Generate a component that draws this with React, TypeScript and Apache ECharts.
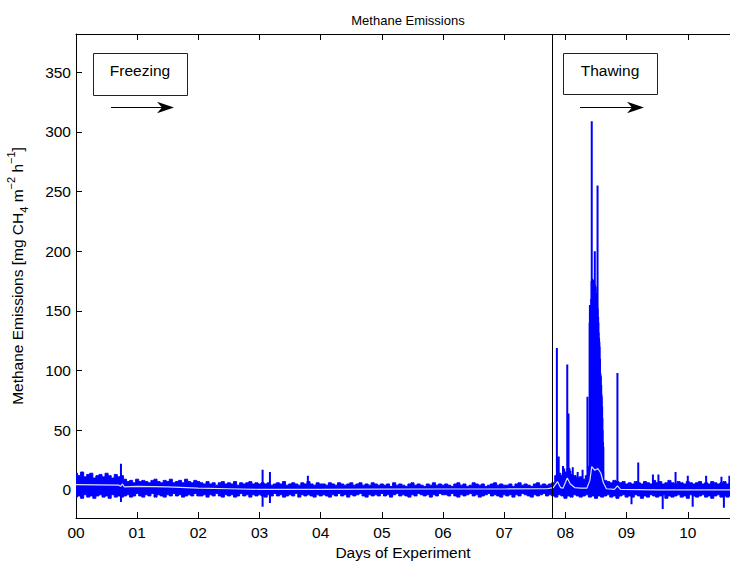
import React, { useEffect, useRef } from 'react';
import * as echarts from 'echarts';

// ---- data ----
const xTickLabels = ['00', '01', '02', '03', '04', '05', '06', '07', '08', '09', '10'];
const yTickValues = [0, 50, 100, 150, 200, 250, 300, 350];

// noise band sampled every 0.05 day from day 0 to 10.70
const bandStart = 0;
const bandStep = 0.05;
const bandUpper = [
  // 0.00 - 0.75
  14, 12, 15, 11, 13, 14, 10, 12, 13, 11, 14, 12, 10, 13, 11, 12,
  // 0.80 - 2.00
  9, 7, 8, 6, 9, 7, 8, 7, 6, 8, 9, 7, 6, 8, 7, 9, 6, 7, 8, 6, 9, 7, 6, 8, 7,
  // 2.05 - 3.00
  6, 5, 7, 5, 6, 4, 6, 7, 5, 6, 5, 7, 4, 6, 5, 6, 7, 5, 6, 5,
  // 3.05 - 4.00
  6, 5, 6, 4, 5, 6, 5, 7, 4, 5, 6, 5, 4, 6, 5, 7, 5, 4, 6, 5,
  // 4.05 - 5.00
  5, 4, 6, 5, 4, 6, 5, 4, 5, 6, 4, 5, 6, 4, 5, 4, 6, 5, 4, 5,
  // 5.05 - 6.00
  4, 5, 3, 6, 4, 5, 4, 3, 5, 6, 4, 5, 4, 3, 5, 4, 6, 4, 5, 4,
  // 6.05 - 7.00
  5, 4, 3, 5, 6, 4, 5, 3, 4, 6, 5, 4, 5, 3, 4, 5, 6, 4, 5, 4,
  // 7.05 - 7.75
  4, 5, 3, 5, 6, 4, 5, 4, 3, 5, 6, 4, 5, 4, 5,
  // 7.80 - 8.35
  6, 12, 14, 12, 15, 18, 13, 12, 10, 11, 9, 12,
  // 8.40 - 8.60
  20, 22, 22, 20, 15,
  // 8.65 - 10.70
  8, 7, 6, 8, 7, 6, 7, 5, 6, 5, 7, 6, 5, 7, 6, 5, 8, 6, 7, 5, 6, 8, 6, 5, 7, 6, 5, 7, 6, 5,
  6, 7, 5, 6, 5, 7, 6, 5, 6, 7, 5, 6,
];
const bandLower = [
  // 0.00 - 0.75
  -6, -5, -7, -4, -6, -5, -7, -5, -4, -6, -5, -7, -4, -6, -5, -6,
  // 0.80 - 2.00
  -5, -4, -6, -5, -3, -5, -6, -4, -5, -3, -6, -4, -5, -6, -4, -5, -3, -5, -4, -6, -5, -4, -5, -3, -5,
  // 2.05 - 3.00
  -5, -4, -6, -4, -5, -3, -5, -6, -4, -5, -4, -6, -5, -3, -5, -4, -6, -4, -5, -4,
  // 3.05 - 4.00
  -5, -6, -4, -5, -3, -5, -4, -6, -5, -4, -5, -3, -6, -4, -5, -4, -5, -6, -4, -5,
  // 4.05 - 5.00
  -4, -5, -6, -4, -5, -3, -5, -4, -6, -4, -5, -4, -3, -5, -6, -4, -5, -4, -5, -3,
  // 5.05 - 6.00
  -5, -4, -6, -4, -3, -5, -4, -5, -6, -4, -5, -3, -4, -5, -4, -6, -4, -5, -3, -4,
  // 6.05 - 7.00
  -4, -5, -3, -5, -6, -4, -5, -4, -3, -5, -4, -6, -5, -4, -3, -5, -4, -5, -6, -4,
  // 7.05 - 7.75
  -5, -4, -6, -4, -5, -3, -4, -5, -6, -4, -5, -4, -3, -5, -4,
  // 7.80 - 8.35
  -5, -6, -4, -5, -7, -5, -6, -4, -5, -6, -5, -4,
  // 8.40 - 8.60
  -6, -5, -7, -5, -6,
  // 8.65 - 10.70
  -5, -4, -6, -5, -7, -5, -4, -6, -5, -6, -4, -5, -7, -5, -6, -4, -5, -6, -5, -4, -7, -5, -6, -5, -4,
  -6, -5, -7, -4, -5, -6, -5, -4, -6, -5, -7, -5, -4, -6, -5, -6, -5,
];

// individual spikes (day, value)
const spikeDays = [
  0.735, 0.735, 3.05, 3.05, 3.17, 3.17, 3.79,
  7.86, 7.89, 7.96, 7.98, 8.03, 8.05, 8.08, 8.12, 8.2, 8.28, 8.36,
  8.85, 9.08, 9.19, 9.43, 9.52, 9.59, 9.80, 10.0, 10.08, 10.3, 10.55, 10.59, 10.68,
];
const spikeValues = [
  22, -10, 17, -14, 15, -11, 12,
  119, 28, 20, 18, 105, 64, 16, 19, 15, 17, 78,
  98, -12, 23, 13, 13, -16, 15, 12, -14, 12, 11, -15, 12,
];

// dense burst of emissions during thawing (day, peak)
const burstDays = [
  8.395, 8.40, 8.405, 8.41, 8.415, 8.42, 8.425, 8.43, 8.435, 8.44, 8.445, 8.45, 8.455, 8.46, 8.465,
  8.47, 8.475, 8.48, 8.485, 8.49, 8.495, 8.50, 8.505, 8.51, 8.515, 8.52, 8.525, 8.53, 8.535,
  8.54, 8.545, 8.55, 8.555, 8.56, 8.565, 8.57, 8.575, 8.58, 8.585, 8.59, 8.595, 8.60, 8.605,
  8.61, 8.615, 8.62,
];
const burstValues = [
  140, 155, 150, 155, 148, 160, 175, 309, 170, 177, 168, 176, 172, 165, 170,
  175, 168, 200, 172, 170, 165, 160, 152, 150, 148, 140, 255, 152, 145,
  140, 132, 127, 124, 120, 110, 98, 96, 95, 88, 80, 78, 70, 60,
  50, 40, 36,
];

// smoothed (mean) curve
const meanDays = [
  0, 0.7, 0.73, 0.76, 0.79, 1.0, 1.5, 2.0, 2.5, 3.0, 4.0, 5.0, 6.0, 7.0, 7.7, 7.8, 7.87, 7.92,
  7.96, 8.03, 8.08, 8.15, 8.25, 8.35, 8.40, 8.43, 8.48, 8.53, 8.58, 8.62, 8.67, 8.80, 8.85, 8.9,
  9.5, 10.7,
];
const meanValues = [
  4.5, 4, 3, 5, 2.5, 3, 2.5, 1.5, 1, 0.5, 0.5, 0.7, 0.8, 0.8, 1, 2, 7, 2,
  1.5, 10, 5, 2, 1.5, 1.5, 8, 19.5, 16.5, 18, 14, 6, 1, 0.5, 3.5, 0.5,
  0, 0,
];

const thawStartDay = 7.78;

const FONT = '"Liberation Sans", Arial, Helvetica, sans-serif';
const BLUE = '#0000ff';
const LABEL_SIZE = 15.5;

function stickData(days: number[], values: number[]) {
  const out: (number | string)[][] = [];
  days.forEach((d, i) => {
    out.push([d, 0]);
    out.push([d, values[i]]);
    out.push([d, '-']);
  });
  return out;
}

export default function App() {
  const ref = useRef<HTMLDivElement>(null);

  useEffect(() => {
    if (!ref.current) return;
    const chart = echarts.init(ref.current, undefined, { renderer: 'svg' });

    const n = Math.min(bandUpper.length, bandLower.length);
    const upperData: number[][] = [];
    const lowerData: number[][] = [];
    for (let i = 0; i < n; i++) {
      const d = +(bandStart + i * bandStep).toFixed(3);
      upperData.push([d, bandUpper[i]]);
      lowerData.push([d, bandLower[i]]);
    }
    const meanData = meanDays.map((d, i) => [d, meanValues[i]]);

    const xMin = 0;
    const xMax = 10.69;

    chart.setOption({
      animation: false,
      backgroundColor: '#ffffff',
      title: {
        text: 'Methane Emissions',
        left: 403,
        top: 9,
        textAlign: 'center',
        textStyle: { fontFamily: FONT, fontSize: 13, fontWeight: 'normal', color: '#000' },
      },
      grid: { left: 76, right: 0, top: 34, bottom: 46, outerBoundsMode: 'none', containLabel: false },
      xAxis: [
        {
          type: 'value',
          min: xMin,
          max: xMax,
          interval: 1,
          position: 'bottom',
          name: 'Days of Experiment',
          nameLocation: 'middle',
          nameGap: 23,
          nameTextStyle: { fontFamily: FONT, fontSize: LABEL_SIZE, color: '#000' },
          axisLine: { show: true, onZero: false, lineStyle: { color: '#000', width: 1 } },
          axisTick: { show: true, inside: true, length: 6, lineStyle: { color: '#000' } },
          axisLabel: {
            fontFamily: FONT,
            fontSize: LABEL_SIZE,
            color: '#000',
            margin: 6,
            formatter: (v: number) => xTickLabels[Math.round(v)] ?? '',
          },
          splitLine: { show: false },
        },
        {
          type: 'value',
          min: xMin,
          max: xMax,
          interval: 1,
          position: 'top',
          axisLine: { show: true, onZero: false, lineStyle: { color: '#000', width: 1 } },
          axisTick: { show: true, inside: true, length: 6, lineStyle: { color: '#000' } },
          axisLabel: { show: false },
          splitLine: { show: false },
        },
      ],
      yAxis: {
        type: 'value',
        min: -23.5,
        max: 382,
        name: '{n|Methane Emissions [mg CH}{sub|4}{n| m}{sup|−2}{n| h}{sup|−1}{n|]}',
        nameLocation: 'middle',
        nameGap: 47,
        nameRotate: 90,
        nameTextStyle: {
          fontFamily: FONT,
          color: '#000',
          rich: {
            n: { fontFamily: FONT, fontSize: LABEL_SIZE, color: '#000', lineHeight: 24, verticalAlign: 'middle' },
            sup: { fontFamily: FONT, fontSize: 11, color: '#000', lineHeight: 11, verticalAlign: 'top' },
            sub: { fontFamily: FONT, fontSize: 11, color: '#000', lineHeight: 11, verticalAlign: 'bottom' },
          },
        },
        axisLine: { show: true, onZero: false, lineStyle: { color: '#000', width: 1 } },
        axisTick: { show: true, inside: true, length: 6, customValues: yTickValues, lineStyle: { color: '#000' } },
        axisLabel: {
          fontFamily: FONT,
          fontSize: LABEL_SIZE,
          color: '#000',
          margin: 5,
          customValues: yTickValues,
        },
        splitLine: { show: false },
      },
      series: [
        {
          type: 'line',
          data: upperData,
          step: 'middle',
          symbol: 'none',
          lineStyle: { color: BLUE, width: 1 },
          areaStyle: { color: BLUE, opacity: 1 },
          silent: true,
          z: 2,
        },
        {
          type: 'line',
          data: lowerData,
          step: 'middle',
          symbol: 'none',
          lineStyle: { color: BLUE, width: 1 },
          areaStyle: { color: BLUE, opacity: 1 },
          silent: true,
          z: 2,
        },
        {
          type: 'line',
          data: stickData(spikeDays, spikeValues),
          symbol: 'none',
          connectNulls: false,
          lineStyle: { color: BLUE, width: 2, cap: 'butt' },
          silent: true,
          z: 3,
        },
        {
          type: 'line',
          data: stickData(burstDays, burstValues),
          symbol: 'none',
          connectNulls: false,
          lineStyle: { color: BLUE, width: 2, cap: 'butt' },
          silent: true,
          z: 3,
        },
        {
          type: 'line',
          data: meanData,
          symbol: 'none',
          lineStyle: { color: '#dcdfff', width: 1.2 },
          silent: true,
          z: 4,
          markLine: {
            silent: true,
            symbol: 'none',
            label: { show: false },
            lineStyle: { color: '#000', width: 1, type: 'solid' },
            data: [{ xAxis: thawStartDay }],
          },
        },
      ],
      graphic: [
        { type: 'rect', shape: { x: 93.5, y: 53.5, width: 94, height: 42 }, style: { fill: '#fff', stroke: '#222', lineWidth: 1 }, z: 10 },
        { type: 'text', x: 140, y: 70, style: { text: 'Freezing', fontFamily: FONT, fontSize: LABEL_SIZE, fill: '#000', align: 'center', verticalAlign: 'middle' }, z: 11 },
        { type: 'line', shape: { x1: 111, y1: 107.5, x2: 164, y2: 107.5 }, style: { stroke: '#000', lineWidth: 1 }, z: 10 },
        { type: 'polygon', shape: { points: [[174, 107.5], [157, 101.7], [162, 107.5], [157, 113.3]] }, style: { fill: '#000' }, z: 10 },
        { type: 'rect', shape: { x: 563.5, y: 53.5, width: 94, height: 41 }, style: { fill: '#fff', stroke: '#222', lineWidth: 1 }, z: 10 },
        { type: 'text', x: 610, y: 70, style: { text: 'Thawing', fontFamily: FONT, fontSize: LABEL_SIZE, fill: '#000', align: 'center', verticalAlign: 'middle' }, z: 11 },
        { type: 'line', shape: { x1: 580, y1: 107.5, x2: 634, y2: 107.5 }, style: { stroke: '#000', lineWidth: 1 }, z: 10 },
        { type: 'polygon', shape: { points: [[644, 107.5], [627, 101.7], [632, 107.5], [627, 113.3]] }, style: { fill: '#000' }, z: 10 },
      ],
    });

    return () => chart.dispose();
  }, []);

  return (
    <div
      ref={ref}
      style={{ position: 'fixed', left: 0, top: 0, width: 730, height: 564, background: '#fff' }}
    />
  );
}
